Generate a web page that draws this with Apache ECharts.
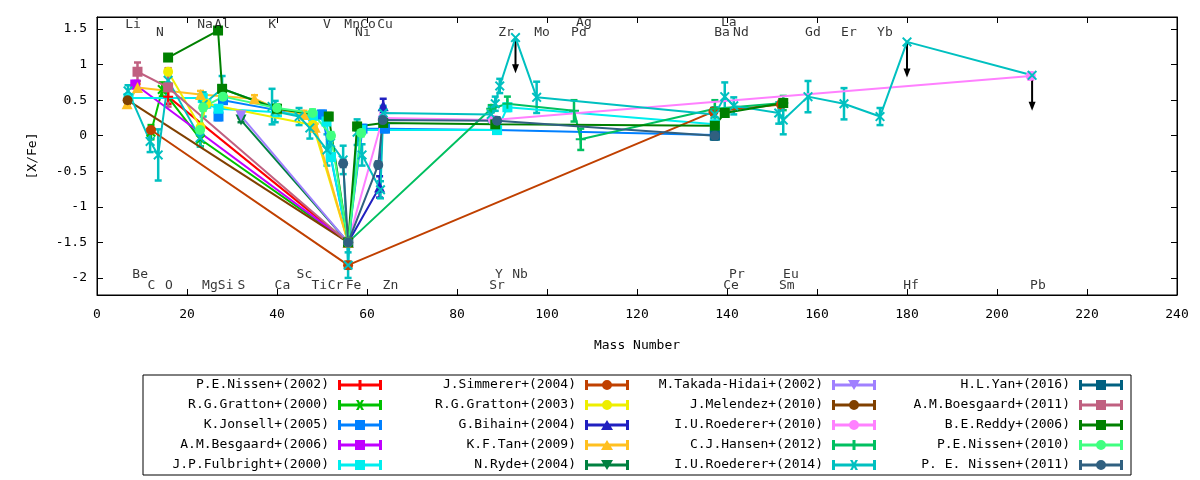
<!DOCTYPE html>
<html>
<head>
<meta charset="utf-8">
<title>[X/Fe] vs Mass Number</title>
<script src="https://cdn.jsdelivr.net/npm/echarts@6/dist/echarts.min.js"></script>
<style>
html,body{margin:0;padding:0;background:#fff}
#chart{width:1200px;height:480px}
</style>
</head>
<body>
<div id="chart"></div>
<script>
// [mass number, [X/Fe], error]  (error 0 = no bar)
var nissen2002 = [[15.8,0.55,0.1],[55.8,-1.5,0.05]];
var gratton2000 = [[12,0.05,0.1],[14.5,0.65,0.1],[23,-0.05,0.1],[55.8,-1.5,0.05]];
var jonsell2005 = [[27,0.27,0.05],[28,0.5,0.05],[40,0.36,0.05],[50,0.3,0.05],[55.8,-1.5,0.05],[59,0.1,0.05],[64,0.1,0.05],[88.9,0.08,0.05],[137.3,0.01,0.05]];
var besgaard2006 = [[8.5,0.72,0.05],[55.8,-1.5,0.05]];
var fulbright2000 = [[7,0.53,0],[23.5,0.53,0.05],[24.3,0.45,0.05],[27,0.38,0.05],[40,0.33,0.05],[48,0.28,0.05],[51,0.2,0.05],[52,-0.3,0.05],[55.8,-1.5,0.05],[58.7,0.08,0.05],[88.9,0.08,0.05],[91.2,0.4,0.05],[137.3,0.16,0.05]];
var simmerer2004 = [[12,0.08,0],[55.8,-1.82,0.05],[137,0.34,0.05],[152,0.44,0.05]];
var gratton2003 = [[15.8,0.9,0.05],[23,0.12,0.05],[24.3,0.45,0.05],[48,0.15,0.05],[55.8,-1.5,0.05]];
var bihain2004 = [[55.8,-1.5,0.05],[62.8,-0.72,0.15],[63.6,0.42,0.1]];
var tan2009 = [[6.7,0.45,0],[9,0.68,0.05],[23,0.58,0.05],[35,0.52,0.05],[40,0.38,0.05],[46,0.3,0.05],[48.5,0.12,0.05],[55.8,-1.5,0.05]];
var ryde2004 = [[32,0.22,0.03],[55.8,-1.5,0.05]];
var takadaHidai2002 = [[32,0.28,0.03],[55.8,-1.5,0.05]];
var melendez2010 = [[6.8,0.5,0.05],[55.8,-1.5,0.05]];
var roederer2010 = [[55.8,-1.5,0.05],[63.5,0.25,0.05],[88,0.22,0.05],[207.5,0.84,0.05]];
var hansen2012 = [[55.8,-1.5,0.05],[87.6,0.38,0.05],[91.2,0.45,0.1],[106,0.35,0.15],[107.5,-0.05,0.15],[137.3,0.38,0.12],[152.5,0.46,0.1]];
var roederer2014 = [[6.9,0.63,0.08],[11.8,-0.08,0.15],[13.6,-0.27,0.36],[15.8,0.78,0.1],[22.9,-0.03,0.12],[23.6,0.44,0.17],
  [27.8,0.66,0.18],[38.9,0.41,0.25],[39.6,0.34,0.15],[44.9,0.27,0.12],[47.3,0.11,0.15],[51.1,-0.2,0.22],[51.9,-0.1,0.15],
  [54.7,-0.34,0.2],[55.8,-1.82,0.18],[57.8,0.05,0.18],[58.9,-0.27,0.15],[63,-0.76,0.12],[63.6,0.32,0.1],[87.6,0.3,0.1],
  [88.5,0.45,0.1],[89.5,0.7,0.1],[93,1.38,0],[97.7,0.54,0.22],[137.3,0.3,0.1],[139.5,0.55,0.2],[141.5,0.42,0.12],
  [151.5,0.32,0.15],[152.5,0.22,0.2],[158,0.55,0.22],[166,0.45,0.22],[174,0.27,0.12],[180,1.32,0],[207.8,0.85,0]];
var yan2016 = [[137.3,0.0,0.05]];
var boesgaard2011 = [[9,0.9,0.13],[15.8,0.68,0.27],[55.8,-1.5,0.05]];
var reddy2006 = [[15.8,1.1,0],[26.9,1.48,0],[27.8,0.66,0.05],[40,0.38,0.05],[51.5,0.27,0.05],[55.8,-1.5,0.05],[57.8,0.13,0.05],[63.6,0.18,0.05],[88.5,0.16,0.05],[137.3,0.14,0.05],[139.5,0.32,0.05],[152.5,0.46,0.05]];
var nissen2010 = [[22.9,0.08,0.05],[23.6,0.4,0.05],[28,0.55,0.05],[40,0.39,0.05],[47.9,0.32,0.05],[52,0.0,0.05],[55.8,-1.5,0.05],[58.7,0.04,0.05]];
var nissen2011 = [[54.7,-0.39,0.05],[55.8,-1.5,0.05],[62.5,-0.41,0.05],[63.5,0.22,0.05],[88.9,0.21,0.05],[137.3,0.0,0.05]];

// upper limits: [mass number, value]
var upperLimits = [[93,1.38],[180,1.32],[207.8,0.85]];

var studyNames = ['P.E.Nissen+(2002)','R.G.Gratton+(2000)','K.Jonsell+(2005)','A.M.Besgaard+(2006)','J.P.Fulbright+(2000)',
  'J.Simmerer+(2004)','R.G.Gratton+(2003)','G.Bihain+(2004)','K.F.Tan+(2009)','N.Ryde+(2004)',
  'M.Takada-Hidai+(2002)','J.Melendez+(2010)','I.U.Roederer+(2010)','C.J.Hansen+(2012)','I.U.Roederer+(2014)',
  'H.L.Yan+(2016)','A.M.Boesgaard+(2011)','B.E.Reddy+(2006)','P.E.Nissen+(2010)','P. E. Nissen+(2011)'];
var studyData = [nissen2002,gratton2000,jonsell2005,besgaard2006,fulbright2000,
  simmerer2004,gratton2003,bihain2004,tan2009,ryde2004,
  takadaHidai2002,melendez2010,roederer2010,hansen2012,roederer2014,
  yan2016,boesgaard2011,reddy2006,nissen2010,nissen2011];

// element labels
var elemNames = ['Li','N','Na','Al','K','V','Mn','Co','Ni','Cu','Zr','Mo','Pd','Ag','Ba','La','Nd','Gd','Er','Yb',
  'Be','C','O','Mg','Si','S','Ca','Sc','Ti','Cr','Fe','Zn','Y','Sr','Nb','Pr','Ce','Eu','Sm','Hf','Pb'];
var elemX = [8.0,14.0,24.0,27.8,38.9,51.1,56.7,60.2,59.1,64.0,90.9,98.9,107.1,108.2,138.9,140.4,143.1,159.1,167.1,175.1,
  9.6,12.1,16.0,25.1,28.6,32.1,41.2,46.1,49.4,53.0,57.0,65.2,89.3,88.9,94.0,142.2,140.9,154.2,153.3,180.9,209.1];
var elemY = [1.56,1.45,1.56,1.56,1.56,1.56,1.56,1.56,1.45,1.56,1.45,1.45,1.45,1.59,1.45,1.59,1.45,1.45,1.45,1.45,
  -1.95,-2.11,-2.11,-2.11,-2.11,-2.11,-2.11,-1.95,-2.11,-2.11,-2.11,-2.11,-1.95,-2.11,-1.95,-1.95,-2.11,-1.95,-2.11,-2.11,-2.11];

// styles
var studyColors = ['#ff0000','#00c000','#0080ff','#c000ff','#00eeee',
  '#c04000','#eeee00','#2020c0','#ffc020','#008040',
  '#a080ff','#804000','#ff80ff','#00c060','#00c0c0',
  '#006080','#c06080','#008000','#40ff80','#306080'];
var studyMarks = ['plus','cross','square','square','square',
  'circle','circle','tri','tri','itri',
  'itri','circle','circle','plus','cross',
  'square','square','square','circle','circle'];

var FONT = 'DejaVu Sans Mono';

var chartSymbols = {
  plus: 'path://M4,0H6V4H10V6H6V10H4V6H0V4H4Z',
  cross: 'path://M0,1.4L1.4,0L5,3.6L8.6,0L10,1.4L6.4,5L10,8.6L8.6,10L5,6.4L1.4,10L0,8.6L3.6,5Z',
  square: 'rect', circle: 'circle', tri: 'triangle', itri: 'triangle'
};
var iconBase = 'M0,0H3V10H0Z M41,0H44V10H41Z M0,3.5H44V6.5H0Z';
var iconMarks = {
  plus: ' M20.5,0H23.5V10H20.5Z',
  cross: ' M18,0H20.5L26,10H23.5Z M23.5,0H26L20.5,10H18Z',
  square: ' M17,0H27V10H17Z',
  circle: ' M17,5A5,5,0,1,1,27,5A5,5,0,1,1,17,5Z',
  tri: ' M22,0L28,10H16Z',
  itri: ' M16,0H28L22,10Z'
};

function errorBarSeries(rows, color) {
  return {
    type: 'custom', silent: true, animation: false,
    data: rows.filter(function(r){ return r[2] > 0; }),
    renderItem: function(params, api) {
      var x = api.value(0), y = api.value(1), e = api.value(2);
      var lo = api.coord([x, y - e]), hi = api.coord([x, y + e]);
      var w = 3.5, st = {stroke: color, lineWidth: 2.5};
      return {type: 'group', children: [
        {type: 'line', shape: {x1: lo[0], y1: lo[1], x2: hi[0], y2: hi[1]}, style: st},
        {type: 'line', shape: {x1: lo[0]-w, y1: lo[1], x2: lo[0]+w, y2: lo[1]}, style: st},
        {type: 'line', shape: {x1: hi[0]-w, y1: hi[1], x2: hi[0]+w, y2: hi[1]}, style: st}
      ]};
    }
  };
}

var series = [];
studyNames.forEach(function(name, i) {
  series.push(errorBarSeries(studyData[i], studyColors[i]));
  series.push({
    type: 'line', name: name, animation: false,
    data: studyData[i].map(function(r){ return [r[0], r[1]]; }),
    symbol: chartSymbols[studyMarks[i]],
    symbolRotate: studyMarks[i] === 'itri' ? 180 : 0,
    symbolSize: studyMarks[i] === 'tri' || studyMarks[i] === 'itri' ? 11 : 10,
    showAllSymbol: true,
    color: studyColors[i],
    lineStyle: {width: 2, color: studyColors[i]},
    itemStyle: {color: studyColors[i], borderWidth: 0},
    emphasis: {disabled: true}
  });
});

// upper limit arrows
series.push({
  type: 'custom', silent: true, animation: false, data: upperLimits,
  renderItem: function(params, api) {
    var top = api.coord([api.value(0), api.value(1)]);
    var bot = api.coord([api.value(0), api.value(1) - 0.5]);
    return {type: 'group', children: [
      {type: 'line', shape: {x1: top[0], y1: top[1], x2: bot[0], y2: bot[1]-6}, style: {stroke: '#000', lineWidth: 2}},
      {type: 'polygon', shape: {points: [[bot[0]-3.5, bot[1]-9], [bot[0]+3.5, bot[1]-9], [bot[0], bot[1]]]}, style: {fill: '#000'}}
    ]};
  }
});

// element labels
series.push({
  type: 'scatter', silent: true, animation: false, symbolSize: 0, z: 10,
  data: elemNames.map(function(n, i){ return {name: n, value: [elemX[i], elemY[i]]}; }),
  label: {show: true, position: 'inside', formatter: '{b}', color: '#000', fontFamily: FONT, fontSize: 13}
});

function legendCol(start, right) {
  return {
    orient: 'vertical', align: 'right', right: right, top: 378, padding: 0,
    itemWidth: 44, itemHeight: 10, itemGap: 6, selectedMode: false,
    itemStyle: {borderWidth: 0},
    textStyle: {fontFamily: FONT, fontSize: 13, color: '#000', lineHeight: 14, padding: [0, 4, 0, 0]},
    data: studyNames.slice(start, start + 5).map(function(n, k) {
      return {name: n, icon: 'path://' + iconBase + iconMarks[studyMarks[start + k]]};
    })
  };
}

function axisCommon() {
  return {
    axisLine: {show: true, onZero: false, lineStyle: {color: '#000', width: 1}},
    axisTick: {show: true, inside: true, length: 6, lineStyle: {color: '#000'}},
    splitLine: {show: false}
  };
}

var option = {
  backgroundColor: '#fff',
  animation: false,
  grid: {left: 97, right: 23, top: 17, bottom: 185, show: true, borderColor: '#000', borderWidth: 1},
  legend: [legendCol(0, 818), legendCol(5, 571), legendCol(10, 324), legendCol(15, 77)],
  graphic: [{type: 'rect', shape: {x: 143, y: 375, width: 988, height: 100}, style: {fill: 'none', stroke: '#000', lineWidth: 1}, silent: true}],
  xAxis: [
    Object.assign({type: 'value', min: 0, max: 240, interval: 20, position: 'bottom',
      name: 'Mass Number', nameLocation: 'middle', nameGap: 44,
      nameTextStyle: {fontFamily: FONT, fontSize: 13, color: '#000'},
      axisLabel: {fontFamily: FONT, fontSize: 13, color: '#000', margin: 13}}, axisCommon()),
    Object.assign({type: 'value', min: 0, max: 240, interval: 20, position: 'top', axisLabel: {show: false}}, axisCommon())
  ],
  yAxis: [
    Object.assign({type: 'value', min: -2.24, max: 1.67, splitNumber: 8, minInterval: 0.5, maxInterval: 0.5, position: 'left',
      name: '[X/Fe]', nameLocation: 'middle', nameGap: 58,
      nameTextStyle: {fontFamily: FONT, fontSize: 13, color: '#000'},
      axisLabel: {fontFamily: FONT, fontSize: 13, color: '#000', margin: 10, showMinLabel: false, showMaxLabel: false}}, axisCommon()),
    Object.assign({type: 'value', min: -2.24, max: 1.67, splitNumber: 8, minInterval: 0.5, maxInterval: 0.5, position: 'right',
      axisLabel: {show: false}}, axisCommon())
  ],
  series: series
};

var chart = echarts.init(document.getElementById('chart'), null, {renderer: 'canvas'});
chart.setOption(option);
</script>
</body>
</html>
